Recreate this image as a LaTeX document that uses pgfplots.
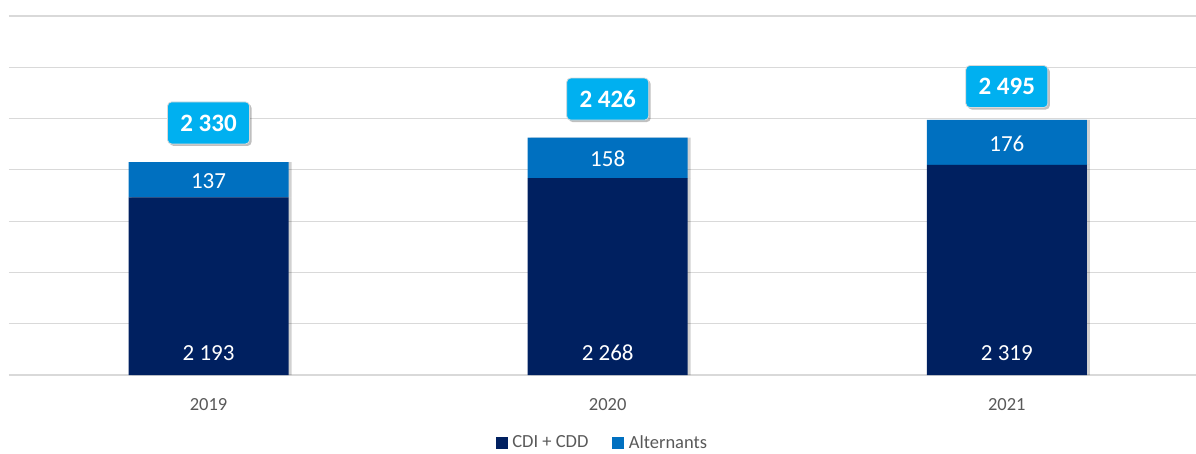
\documentclass[border=0pt]{standalone}
\usepackage{fontspec}
\setmainfont{Carlito}
\usepackage{pgfplots}
\pgfplotsset{compat=1.18}
\usetikzlibrary{shadows}

\definecolor{navy}{HTML}{002060}
\definecolor{midblue}{HTML}{0070C0}
\definecolor{cyanbox}{HTML}{00B0F0}
\definecolor{gridgray}{HTML}{D9D9D9}
\definecolor{textgray}{HTML}{595959}

\pgfplotsset{
  base/.style={
    at={(9pt,78pt)}, anchor=south west,
    scale only axis, width=1187pt, height=359pt,
    xmin=-0.5, xmax=2.474, ymin=1500, ymax=2900,
  },
  barshadow/.style={drop shadow={shadow xshift=3pt, shadow yshift=0pt, opacity=0.18, fill=black}},
}

\begin{document}
\begin{tikzpicture}
\path[use as bounding box] (0,0) rectangle (1196pt,453pt);

\begin{axis}[
  base,
  ybar stacked, bar width=160pt,
  axis lines*=left,
  y axis line style={draw=none},
  x axis line style={draw=gridgray, line width=1.5pt, -},
  tick style={draw=none},
  ytick={1500,1700,...,2900}, yticklabels={},
  ymajorgrids, grid style={gridgray, line width=1.2pt},
  xtick={0,1,2}, xticklabels={2019,2020,2021},
  xticklabel style={font=\fontsize{18.5pt}{22pt}\selectfont, text=textgray, yshift=-20pt},
]
% CDI + CDD
\addplot[fill=navy, draw=none, barshadow]
  coordinates {(0,2193) (1,2268) (2,2319)};
% Alternants
\addplot[fill=midblue, draw=none, barshadow]
  coordinates {(0,137) (1,158) (2,176)};
\end{axis}

\begin{axis}[
  base, hide axis,
  legend style={at={(0.5,-0.188)}, anchor=center, draw=none, fill=none,
    inner sep=1pt, legend columns=2, font=\fontsize{18.5pt}{22pt}\selectfont, text=textgray,
    /tikz/every even column/.style={column sep=22pt}},
  nodes near coords, point meta=explicit,
  every node near coord/.append style={anchor=center},
  /pgf/number format/.cd, 1000 sep={\ }, assume math mode=true,
]
\addlegendimage{legend image code/.code={\fill[navy] (0pt,-5.5pt) rectangle (11pt,5.5pt); \path (14pt,0pt);}}
\addlegendentry{CDI + CDD}
\addlegendimage{legend image code/.code={\fill[midblue] (0pt,-5.5pt) rectangle (11pt,5.5pt); \path (14pt,0pt);}}
\addlegendentry{Alternants}
% bottom segment values
\addplot[draw=none, mark=none, forget plot,
  every node near coord/.append style={text=white, font=\fontsize{23pt}{27pt}\selectfont}]
  coordinates {(0,1586) [2193] (1,1586) [2268] (2,1586) [2319]};
% top segment values
\addplot[draw=none, mark=none, forget plot,
  every node near coord/.append style={text=white, font=\fontsize{23pt}{27pt}\selectfont}]
  coordinates {(0,2257) [137] (1,2342) [158] (2,2402) [176]};
% totals
\addplot[draw=none, mark=none, forget plot,
  every node near coord/.append style={text=white, font=\fontsize{25pt}{30pt}\selectfont\bfseries,
    fill=cyanbox, rounded corners=4pt, minimum width=82pt, minimum height=42pt,
    draw=gridgray, line width=0.8pt,
    drop shadow={shadow xshift=2pt, shadow yshift=-2pt, opacity=0.25, fill=black}}]
  coordinates {(0,2483) [2330] (1,2576) [2426] (2,2625) [2495]};
\end{axis}
\end{tikzpicture}
\end{document}
